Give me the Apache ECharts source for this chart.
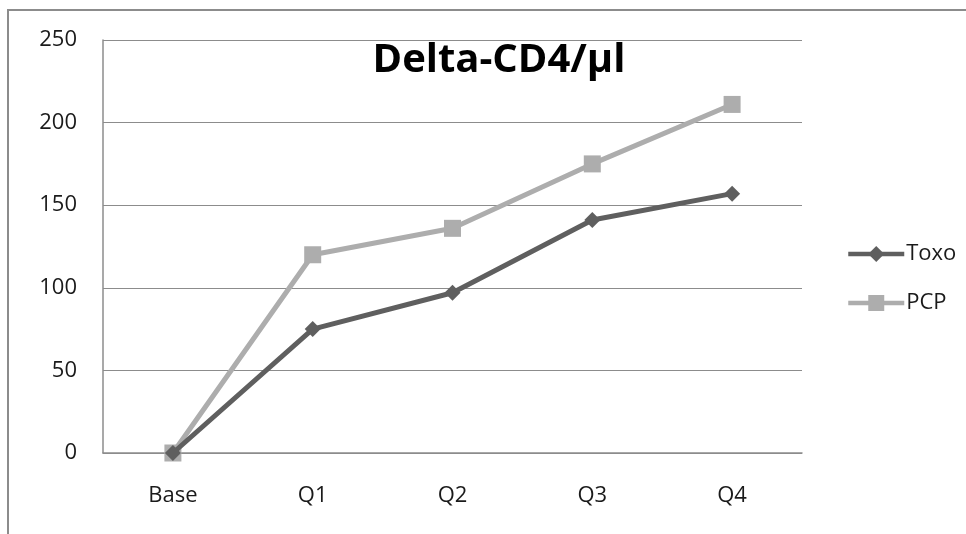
<!DOCTYPE html>
<html>
<head>
<meta charset="utf-8">
<script src="https://cdn.jsdelivr.net/npm/echarts@6/dist/echarts.min.js"></script>
<style>html,body{margin:0;padding:0;background:#fff}#c{width:966px;height:534px}</style>
</head>
<body>
<div id="c"></div>
<script>
const categories = ['Base', 'Q1', 'Q2', 'Q3', 'Q4'];
const toxo = [0, 75, 97, 141, 157];
const pcp = [0, 120, 136, 175, 211];
const yTicks = { min: 0, max: 250, interval: 50 };

const FONT = 'Open Sans';
const chart = echarts.init(document.getElementById('c'));
chart.setOption({
  backgroundColor: '#fff',
  animation: false,
  title: {
    text: 'Delta-CD4/μl',
    left: 494, top: 36, textAlign: 'center',
    textStyle: { fontFamily: FONT, fontWeight: 'bold', fontSize: 40, color: '#000' }
  },
  graphic: [{
    type: 'rect', silent: true,
    shape: { x: 8, y: 10, width: 1000, height: 600 },
    style: { fill: 'none', stroke: '#8c8c8c', lineWidth: 2 }
  }],
  legend: {
    orient: 'vertical', left: 841, top: 238,
    itemWidth: 56, itemHeight: 20, itemGap: 27,
    textStyle: { fontFamily: FONT, fontSize: 22, color: '#1a1a1a', padding: [0, 0, 0, -3] },
    data: [
      { name: 'Toxo', lineStyle: { width: 4.5 } },
      { name: 'PCP', lineStyle: { width: 4.5 } }
    ]
  },
  grid: { left: 103, right: 164, top: 40, bottom: 81, containLabel: false },
  xAxis: {
    type: 'category', data: categories, boundaryGap: true,
    axisLine: { lineStyle: { color: '#8c8c8c', width: 1.5 } },
    axisTick: { show: false },
    axisLabel: { fontFamily: FONT, fontSize: 22, color: '#1a1a1a', margin: 32 }
  },
  yAxis: {
    type: 'value', min: yTicks.min, max: yTicks.max, interval: yTicks.interval,
    axisLine: { show: true, lineStyle: { color: '#8c8c8c', width: 1.5 } },
    axisTick: { show: false },
    splitLine: { lineStyle: { color: '#8c8c8c', width: 1.2 } },
    axisLabel: { fontFamily: FONT, fontSize: 22, color: '#1a1a1a', margin: 26 }
  },
  series: [
    {
      name: 'Toxo', type: 'line', data: toxo,
      symbol: 'diamond', symbolSize: 16,
      lineStyle: { color: '#5f5f5f', width: 5 },
      itemStyle: { color: '#5f5f5f' }, z: 3
    },
    {
      name: 'PCP', type: 'line', data: pcp,
      symbol: 'rect', symbolSize: 17,
      lineStyle: { color: '#adadad', width: 5 },
      itemStyle: { color: '#adadad' }, z: 2
    }
  ]
});
</script>
</body>
</html>
